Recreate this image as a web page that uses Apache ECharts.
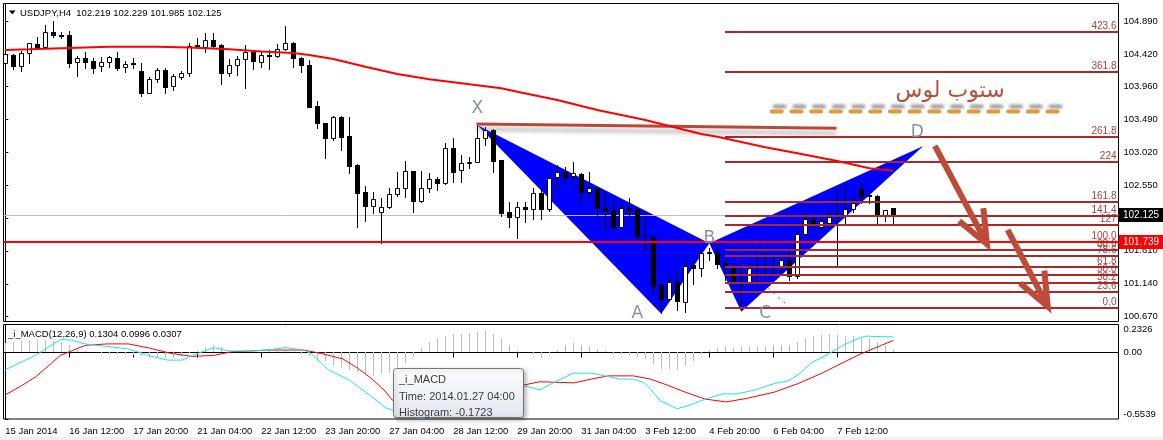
<!DOCTYPE html>
<html>
<head>
<meta charset="utf-8">
<title>USDJPY,H4</title>
<script src="https://cdn.jsdelivr.net/npm/echarts@6.0.0/dist/echarts.min.js"></script>
<style>
html,body{margin:0;padding:0;background:#ffffff;}
#chart{width:1163px;height:440px;}
</style>
</head>
<body>
<div id="chart"></div>
<script>
// ---------------- data ----------------
const symbolName = 'USDJPY,H4';
const xTickBars = [0, 8, 16, 24, 32, 40, 48, 56, 64, 72, 80, 88, 96, 104];
const xTickLabels = ['15 Jan 2014', '16 Jan 12:00', '17 Jan 20:00', '21 Jan 04:00', '22 Jan 12:00',
  '23 Jan 20:00', '27 Jan 04:00', '28 Jan 12:00', '29 Jan 20:00', '31 Jan 04:00',
  '3 Feb 12:00', '4 Feb 20:00', '6 Feb 04:00', '7 Feb 12:00'];
const yTickLabels = ['104.890', '104.420', '103.960', '103.490', '103.020', '102.550',
  '102.080', '101.610', '101.140', '100.670'];
const macdTickLabels = ['0.2326', '0.00', '-0.5539'];

const opens = [104.300,104.409,104.257,104.433,104.566,104.528,104.733,104.700,104.695,104.305,
104.362,104.324,104.247,104.305,104.366,104.233,104.290,104.181,103.871,104.062,
104.195,103.966,104.100,104.147,104.552,104.528,104.623,104.552,104.147,104.262,
104.347,104.457,104.314,104.409,104.395,104.490,104.576,104.362,104.266,103.681,
103.433,103.219,103.529,103.253,102.838,102.448,102.258,102.172,102.234,102.419,
102.505,102.753,102.329,102.505,102.634,102.577,103.076,102.767,102.862,102.886,
103.219,103.338,102.910,102.162,102.091,102.243,102.205,102.434,102.205,102.662,
102.743,102.681,102.710,102.458,102.505,102.220,102.196,101.944,102.220,102.205,
101.829,101.806,101.125,100.925,101.172,100.873,101.410,101.363,101.583,101.592,
101.435,101.377,101.163,101.163,101.377,101.394,101.396,101.397,101.482,101.244,
101.849,102.063,101.944,102.015,102.100,102.110,102.206,102.491,102.410,102.387,
102.110,102.219];
const highs = [104.457,104.419,104.466,104.585,104.661,104.838,104.895,104.742,104.752,104.395,
104.447,104.371,104.376,104.395,104.447,104.328,104.362,104.290,104.090,104.219,
104.219,104.138,104.181,104.576,104.647,104.719,104.719,104.566,104.347,104.395,
104.552,104.481,104.457,104.481,104.562,104.823,104.590,104.385,104.338,103.752,
103.443,103.543,103.538,103.529,102.848,102.543,102.448,102.362,102.505,102.743,
102.900,102.757,102.757,102.719,102.672,103.157,103.219,102.981,102.957,103.410,
103.386,103.345,102.915,102.315,102.315,102.315,102.505,102.529,102.662,102.838,
102.815,102.886,102.719,102.734,102.529,102.458,102.339,102.291,102.362,102.210,
102.101,101.815,101.134,101.244,101.339,101.482,101.482,101.625,101.649,101.673,
101.482,101.411,101.387,101.411,101.577,101.601,101.530,101.530,101.625,101.911,
102.149,102.101,102.077,102.196,102.529,102.553,102.387,102.601,102.434,102.410,
102.196,102.229];
const lows = [104.266,104.209,104.185,104.300,104.500,104.519,104.661,104.647,104.243,104.114,
104.228,104.157,104.181,104.243,104.195,104.171,104.219,103.824,103.862,104.028,
103.871,103.909,104.062,104.114,104.514,104.447,104.504,103.990,104.114,104.124,
103.933,104.204,104.243,104.204,104.376,104.481,104.243,104.171,103.662,103.362,
102.934,103.195,103.053,102.719,101.958,102.043,102.148,101.729,102.220,102.400,
102.386,102.162,102.315,102.458,102.481,102.567,102.600,102.591,102.791,102.876,
103.124,102.734,102.110,101.948,101.801,102.029,102.063,102.067,102.186,102.505,
102.586,102.634,102.291,102.353,102.077,101.910,101.910,101.920,102.053,101.791,
101.601,101.006,100.720,100.911,100.768,100.735,101.139,101.244,101.482,101.363,
101.197,101.101,100.760,101.149,101.149,101.244,101.292,101.316,101.187,101.220,
101.839,101.911,101.911,101.958,101.387,101.982,102.172,102.291,102.291,102.015,
102.030,101.985];
const closes = [104.419,104.257,104.433,104.576,104.509,104.733,104.695,104.685,104.300,104.362,
104.314,104.228,104.309,104.376,104.219,104.281,104.281,103.871,104.062,104.190,
103.957,104.109,104.147,104.542,104.528,104.623,104.542,104.147,104.262,104.347,
104.447,104.328,104.409,104.395,104.490,104.576,104.362,104.266,103.671,103.433,
103.229,103.529,103.243,102.829,102.443,102.258,102.353,102.234,102.424,102.505,
102.753,102.329,102.505,102.634,102.586,103.076,102.743,102.862,102.886,103.219,
103.338,102.900,102.158,102.091,102.243,102.205,102.434,102.205,102.648,102.743,
102.672,102.719,102.458,102.505,102.220,102.186,101.958,102.220,102.196,101.825,
101.820,101.115,100.920,101.172,100.887,101.396,101.363,101.577,101.590,101.425,
101.387,101.149,101.149,101.363,101.401,101.398,101.392,101.482,101.244,101.849,
102.063,101.996,102.030,102.101,102.115,102.206,102.291,102.396,102.387,102.110,
102.187,102.125];

// moving average (red) read at [bar, price]
const maPoints = [[0,104.48],[3,104.49],[8,104.51],[13,104.527],[19,104.527],[23,104.516],[28,104.49],
  [32,104.46],[36,104.437],[38,104.409],[41,104.351],[45,104.241],[49,104.137],[53,104.061],[57,104.004],
  [62,103.933],[64,103.884],[69,103.766],[74,103.623],[80,103.48],[85,103.337],[87,103.28],[89,103.241],
  [95,103.09],[99,103.004],[104,102.894],[108,102.79],[111,102.756]];

// MACD main (aqua) and signal (red) read at [bar, value]; histogram per bar
const macdMain = [[0,-0.144],[3.8,-0.024],[6.9,0.110],[8.3,0.101],[10,0.071],[12.7,0.050],[15.4,0.029],
  [18.1,-0.030],[20.3,-0.064],[22.1,-0.064],[23.4,-0.024],[26.1,0.041],[27.9,0.012],[30.6,0.012],[32.8,0.020],
  [35,0.041],[37.3,0.020],[38.2,-0.009],[40.4,-0.144],[43.1,-0.233],[45.8,-0.368],[47.5,-0.458],[49.3,-0.503],
  [52,-0.55],[56,-0.50],[60,-0.40],[63,-0.32],[65,-0.278],[66.8,-0.311],[68.5,-0.253],[71,-0.172],[73.3,-0.172],
  [75.4,-0.201],[76.7,-0.221],[78.5,-0.221],[79.8,-0.250],[80.6,-0.302],[81.9,-0.403],[84,-0.469],[85.8,-0.432],
  [87.5,-0.388],[89.6,-0.345],[91.4,-0.345],[93.5,-0.316],[96.1,-0.259],[97.8,-0.238],[99.1,-0.187],
  [100.8,-0.085],[103,-0.008],[104.7,0.059],[106.9,0.125],[107.7,0.136],[109.5,0.131],[111,0.1304]];
const macdSignal = [[0,-0.353],[2,-0.278],[3.8,-0.203],[6.9,-0.024],[10,0.059],[12.7,0.071],[15.4,0.071],
  [18.1,0.035],[20.8,-0.009],[23.4,-0.033],[26.1,-0.024],[28.3,0.006],[30.6,0.012],[32.8,0.020],[37.3,0.020],
  [39.5,-0.009],[42.2,-0.054],[44,-0.129],[45.8,-0.218],[47.5,-0.323],[48.4,-0.398],[52,-0.45],[58,-0.38],
  [64.7,-0.273],[66.8,-0.244],[71.1,-0.253],[73.3,-0.221],[75.4,-0.195],[78.5,-0.195],[80.6,-0.221],
  [82.8,-0.273],[85,-0.331],[87.5,-0.388],[90.1,-0.412],[92.7,-0.382],[96.1,-0.331],[99.1,-0.259],
  [102.1,-0.172],[104.7,-0.085],[106.9,-0.013],[109.5,0.059],[111,0.0996]];
const macdHist = [0.075,0.084,0.096,0.100,0.105,0.105,0.096,0.084,0.060,0.024,
0.009,0.002,-0.006,-0.012,-0.015,-0.012,-0.018,-0.030,-0.045,-0.050,
-0.050,-0.045,-0.030,-0.006,0.015,0.045,0.060,0.045,0.024,0.009,
0.006,0.006,0.006,0.009,0.015,0.009,0.002,-0.015,-0.030,-0.054,
-0.075,-0.105,-0.126,-0.149,-0.164,-0.179,-0.194,-0.179,-0.1723,-0.150,
-0.090,-0.030,0.040,0.090,0.120,0.135,0.150,0.155,0.165,0.173,
0.180,0.150,0.114,0.066,0.015,0.002,-0.010,-0.049,-0.005,0.023,
0.061,0.075,0.066,0.055,0.032,0.009,-0.012,-0.017,-0.020,-0.040,
-0.055,-0.098,-0.141,-0.135,-0.147,-0.112,-0.069,-0.012,0.017,0.037,
0.055,0.037,0.043,0.043,0.049,0.049,0.061,0.066,0.061,0.089,
0.124,0.141,0.147,0.153,0.147,0.141,0.133,0.124,0.118,0.089,
0.061,0.0307];

// Fibonacci expansion
const fibLevels = [0, 23.6, 38.2, 50, 61.8, 78.6, 88.6, 100, 127, 141.4, 161.8, 224, 261.8, 361.8, 423.6];
const fibLabels = ['0.0','23.6','38.2','50.0','61.8','78.6','88.6','100.0','127','141.4','161.8','224','261.8','361.8','423.6'];
const fibLow = 100.80, fibHigh = 101.73, fibStartBar = 90;

// XABCD pattern
const patternNames = ['X', 'A', 'B', 'C', 'D'];
const patternBars = [59, 82, 88, 92, 114.75];
const patternPrices = [103.41, 100.71, 101.72, 100.74, 103.11];
const patternLabelBars = [59, 79, 88, 95, 114];
const patternLabelPrices = [103.647, 100.719, 101.79, 100.719, 103.294];

// horizontal levels and drawn objects
const bidPrice = 102.125;
const levelPrice = 101.739;
const trendLine = [[58.9, 103.423], [103.9, 103.361]];
const stopLossLine = [[95.8, 103.60], [132.7, 103.60]];
const zigLine = [[90.2, 101.623], [97.7, 100.837]];
const arrowLines = [[116.2, 103.109, 122.7, 101.709], [125.3, 101.909, 130.3, 100.816]];
const noteText = 'ستوب لوس';
const notePoint = [118.1, 103.884];
const tooltipLines = ['_i_MACD', 'Time: 2014.01.27 04:00', 'Histogram: -0.1723'];

// ---------------- layout ----------------
const FONT = '"Liberation Sans", Arial, sans-serif';
const X_MIN = -0.225, X_MAX = 139.15;
const Y_MIN = 100.601, Y_MAX = 105.144;
const M_MIN = -0.5539, M_MAX = 0.2326;
const yTicks = yTickLabels.map(Number);
const mTicks = macdTickLabels.map(Number);
const ARROW_COLOR = '#bd4b37';
const FIB_COLOR = '#a52a2a';

const last = opens.length - 1;
const headerText = symbolName + '  ' + [opens[last], highs[last], lows[last], closes[last]].map(v => v.toFixed(3)).join(' ');
const macdHeader = '_i_MACD(12,26,9) ' + macdMain[macdMain.length - 1][1].toFixed(4) + ' ' +
  macdSignal[macdSignal.length - 1][1].toFixed(4) + ' ' + macdHist[last].toFixed(4);

const candleRows = opens.map((o, i) => [i, o, highs[i], lows[i], closes[i]]);

function candleItem(params, api) {
  const i = api.value(0), o = api.value(1), h = api.value(2), l = api.value(3), c = api.value(4);
  const pH = api.coord([i, h]), pL = api.coord([i, l]), pO = api.coord([i, o]), pC = api.coord([i, c]);
  const col = Math.round(pO[0]);
  const xm = col + 0.5;
  const yTop = Math.round(Math.min(pO[1], pC[1]));
  const yBot = Math.round(Math.max(pO[1], pC[1]));
  const kids = [{ type: 'line', shape: { x1: xm, y1: Math.round(pH[1]), x2: xm, y2: Math.round(pL[1]) + 1 },
    style: { stroke: '#000', lineWidth: 1 } }];
  if (yBot - yTop < 1) {
    kids.push({ type: 'line', shape: { x1: col - 2, y1: yTop + 0.5, x2: col + 3, y2: yTop + 0.5 }, style: { stroke: '#000', lineWidth: 1 } });
  } else if (c > o) {
    kids.push({ type: 'rect', shape: { x: col - 1.5, y: yTop + 0.5, width: 4, height: yBot - yTop }, style: { fill: '#fff', stroke: '#000', lineWidth: 1 } });
  } else {
    kids.push({ type: 'rect', shape: { x: col - 2, y: yTop, width: 5, height: yBot - yTop + 1 }, style: { fill: '#000' } });
  }
  return { type: 'group', children: kids };
}

function triangleItem(params, api) {
  const k = params.dataIndex;
  if (k !== 0 && k !== 2) return null;
  const pts = [k, k + 1, k + 2].map(j => api.coord([patternBars[j], patternPrices[j]]));
  return { type: 'polygon', shape: { points: pts }, style: { fill: '#0000ff' } };
}

function patternLabelItem(params, api) {
  const p = api.coord([api.value(0), api.value(1)]);
  return { type: 'text', x: p[0], y: p[1], style: { text: patternNames[params.dataIndex], fill: '#8593a1',
    font: '17px "DejaVu Sans", sans-serif', align: 'center', verticalAlign: 'middle' } };
}

function fibItem(params, api) {
  const p = api.coord([api.value(0), api.value(1)]);
  const cs = params.coordSys;
  const y = Math.round(p[1]);
  const xe = cs.x + cs.width;
  return { type: 'group', children: [
    { type: 'line', shape: { x1: Math.round(p[0]), y1: y, x2: xe, y2: y }, style: { stroke: FIB_COLOR, lineWidth: 2 } },
    { type: 'text', x: xe - 2, y: y - 1, style: { text: fibLabels[params.dataIndex], fill: '#a8403c',
      font: '10px ' + FONT, align: 'right', verticalAlign: 'bottom' } }
  ] };
}

function hLineItem(color, width) {
  return function (params, api) {
    const p = api.coord([api.value(0), api.value(1)]);
    const cs = params.coordSys;
    const y = width % 2 ? Math.round(p[1]) + 0.5 : Math.round(p[1]);
    return { type: 'line', shape: { x1: cs.x, y1: y, x2: cs.x + cs.width, y2: y }, style: { stroke: color, lineWidth: width } };
  };
}

const tagColors = ['#000000', '#ff0000'];
const tagPrices = [bidPrice, levelPrice];
function tagItem(params, api) {
  const p = api.coord([api.value(0), api.value(1)]);
  const cs = params.coordSys;
  const y = Math.round(p[1]);
  const x0 = cs.x + cs.width + 0.5;
  return { type: 'group', children: [
    { type: 'rect', shape: { x: x0, y: y - 7, width: 44, height: 14 }, style: { fill: tagColors[params.dataIndex] } },
    { type: 'text', x: x0 + 4, y: y, style: { text: tagPrices[params.dataIndex].toFixed(3), fill: '#fff',
      font: '10px ' + FONT, align: 'left', verticalAlign: 'middle' } }
  ] };
}

function arrowItem(params, api) {
  const a = api.coord([api.value(0), api.value(1)]);
  const b = api.coord([api.value(2), api.value(3)]);
  const ang = Math.atan2(a[1] - b[1], a[0] - b[0]);
  const L = 36, s = 0.39;
  const e1 = [b[0] + L * Math.cos(ang + s), b[1] + L * Math.sin(ang + s)];
  const e2 = [b[0] + L * Math.cos(ang - s), b[1] + L * Math.sin(ang - s)];
  return { type: 'group', children: [
    { type: 'line', shape: { x1: a[0], y1: a[1], x2: b[0], y2: b[1] }, style: { stroke: ARROW_COLOR, lineWidth: 6 } },
    { type: 'polyline', shape: { points: [e1, b, e2] }, style: { stroke: ARROW_COLOR, lineWidth: 6, lineJoin: 'miter', fill: null } }
  ] };
}

function noteItem(params, api) {
  const p = api.coord([api.value(0), api.value(1)]);
  return { type: 'text', x: p[0], y: p[1], style: { text: noteText, fill: '#b5503c',
    font: '22px "DejaVu Sans", sans-serif', align: 'center', verticalAlign: 'middle' } };
}

function histItem(params, api) {
  const i = api.value(0), v = api.value(1);
  const p0 = api.coord([i, 0]), p1 = api.coord([i, v]);
  const x = Math.round(p0[0]) + 0.5;
  return { type: 'line', shape: { x1: x, y1: Math.round(p0[1]), x2: x, y2: Math.round(p1[1]) }, style: { stroke: '#bdbdbd', lineWidth: 1 } };
}

const axisFont = { color: '#000', fontSize: 9.5, fontFamily: FONT };

const option = {
  animation: false,
  backgroundColor: '#ffffff',
  grid: [
    { left: 3.5, top: 3.5, width: 1115, height: 318, show: true, borderColor: '#000', borderWidth: 1, backgroundColor: 'transparent' },
    { left: 3.5, top: 324.5, width: 1115, height: 94.5, show: true, borderColor: '#000', borderWidth: 1, backgroundColor: 'transparent' }
  ],
  xAxis: [
    { gridIndex: 0, type: 'value', min: X_MIN, max: X_MAX, show: false },
    { gridIndex: 1, type: 'value', min: X_MIN, max: X_MAX, position: 'bottom',
      axisLine: { show: true, lineStyle: { color: '#000', width: 1 } },
      axisTick: { show: true, length: 5, lineStyle: { color: '#000' }, customValues: xTickBars },
      axisLabel: Object.assign({ customValues: xTickBars, align: 'left', margin: 7,
        formatter: v => { const k = xTickBars.indexOf(Math.round(v)); return k >= 0 ? xTickLabels[k] : ''; } }, axisFont),
      splitLine: { show: false } }
  ],
  yAxis: [
    { gridIndex: 0, type: 'value', position: 'right', min: Y_MIN, max: Y_MAX,
      axisLine: { show: true, lineStyle: { color: '#000' } },
      axisTick: { show: true, length: 3, lineStyle: { color: '#000' }, customValues: yTicks },
      axisLabel: Object.assign({ customValues: yTicks, margin: 5, formatter: v => v.toFixed(3) }, axisFont),
      splitLine: { show: false } },
    { gridIndex: 1, type: 'value', position: 'right', min: M_MIN, max: M_MAX,
      axisLine: { show: true, lineStyle: { color: '#000' } },
      axisTick: { show: true, length: 3, lineStyle: { color: '#000' }, customValues: mTicks },
      axisLabel: Object.assign({ customValues: mTicks, margin: 5,
        verticalAlignMaxLabel: 'bottom', verticalAlignMinLabel: 'top',
        formatter: v => { const k = mTicks.indexOf(v); return k >= 0 ? macdTickLabels[k] : ''; } }, axisFont),
      splitLine: { show: false } }
  ],
  series: [
    { type: 'custom', name: 'pattern', xAxisIndex: 0, yAxisIndex: 0, z: 1, silent: true, clip: true,
      data: patternBars.map((b, i) => [b, patternPrices[i]]), encode: { x: 0, y: 1 }, renderItem: triangleItem },
    { type: 'custom', name: 'bid', xAxisIndex: 0, yAxisIndex: 0, z: 2, silent: true,
      data: [[X_MIN, bidPrice]], encode: { x: 0, y: 1 }, renderItem: hLineItem('#c0c0c0', 1) },
    { type: 'custom', name: 'candles', xAxisIndex: 0, yAxisIndex: 0, z: 3, silent: true, clip: true,
      data: candleRows, encode: { x: 0, y: [1, 2, 3, 4] }, renderItem: candleItem },
    { type: 'custom', name: 'fibo', xAxisIndex: 0, yAxisIndex: 0, z: 4, silent: true,
      data: fibLevels.map(l => [fibStartBar, fibLow + l / 100 * (fibHigh - fibLow)]), encode: { x: 0, y: 1 }, renderItem: fibItem },
    { type: 'custom', name: 'level', xAxisIndex: 0, yAxisIndex: 0, z: 5, silent: true,
      data: [[X_MIN, levelPrice]], encode: { x: 0, y: 1 }, renderItem: hLineItem('#ff0000', 2) },
    { type: 'line', name: 'zig', xAxisIndex: 0, yAxisIndex: 0, z: 5, silent: true, symbol: 'none',
      data: zigLine, lineStyle: { color: '#ff0000', width: 1, type: [2, 5] } },
    { type: 'line', name: 'trend', xAxisIndex: 0, yAxisIndex: 0, z: 5, silent: true, symbol: 'none',
      data: trendLine, lineStyle: { color: '#bf4636', width: 3, shadowColor: 'rgba(110,110,110,0.55)', shadowBlur: 4, shadowOffsetY: 5 } },
    { type: 'line', name: 'stop', xAxisIndex: 0, yAxisIndex: 0, z: 5, silent: true, symbol: 'none',
      data: stopLossLine, lineStyle: { color: '#e09a38', width: 4, type: [10, 9.7], cap: 'round',
        shadowColor: 'rgba(120,120,120,0.75)', shadowBlur: 3, shadowOffsetX: 3, shadowOffsetY: -5 } },
    { type: 'line', name: 'MA', xAxisIndex: 0, yAxisIndex: 0, z: 6, silent: true, symbol: 'none',
      data: maPoints, lineStyle: { color: '#ff0000', width: 2 } },
    { type: 'custom', name: 'arrows', xAxisIndex: 0, yAxisIndex: 0, z: 7, silent: true,
      data: arrowLines, encode: { x: [0, 2], y: [1, 3] }, renderItem: arrowItem },
    { type: 'custom', name: 'labels', xAxisIndex: 0, yAxisIndex: 0, z: 7, silent: true,
      data: patternLabelBars.map((b, i) => [b, patternLabelPrices[i]]), encode: { x: 0, y: 1 }, renderItem: patternLabelItem },
    { type: 'custom', name: 'note', xAxisIndex: 0, yAxisIndex: 0, z: 7, silent: true,
      data: [notePoint], encode: { x: 0, y: 1 }, renderItem: noteItem },
    { type: 'custom', name: 'tags', xAxisIndex: 0, yAxisIndex: 0, z: 10, silent: true, clip: false,
      data: tagPrices.map(p => [X_MIN, p]), encode: { x: 0, y: 1 }, renderItem: tagItem },
    { type: 'custom', name: 'hist', xAxisIndex: 1, yAxisIndex: 1, z: 2, silent: true, clip: true,
      data: macdHist.map((v, i) => [i, v]), encode: { x: 0, y: 1 }, renderItem: histItem },
    { type: 'line', name: 'signal', xAxisIndex: 1, yAxisIndex: 1, z: 3, silent: true, symbol: 'none',
      data: macdSignal, lineStyle: { color: '#ff0000', width: 1 } },
    { type: 'line', name: 'main', xAxisIndex: 1, yAxisIndex: 1, z: 4, silent: true, symbol: 'none',
      data: macdMain, lineStyle: { color: '#18e4f0', width: 1 } }
  ],
  graphic: [
    { type: 'rect', shape: { x: 0, y: 437, width: 1163, height: 3 }, style: { fill: '#f0f0f0' }, z: 50, silent: true },
    { type: 'polygon', shape: { points: [[9, 10.5], [15.5, 10.5], [12.25, 14.5]] }, style: { fill: '#000' }, z: 50, silent: true },
    { type: 'text', x: 20, y: 13, style: { text: headerText, fill: '#000', font: '9.5px ' + FONT, verticalAlign: 'middle' }, z: 50, silent: true },
    { type: 'text', x: 8, y: 334, style: { text: macdHeader, fill: '#000', font: '9.5px ' + FONT, verticalAlign: 'middle' }, z: 50, silent: true },
    { type: 'rect', shape: { x: 393.5, y: 368.5, width: 130, height: 49, r: 3 },
      style: { fill: { type: 'linear', x: 0, y: 0, x2: 0, y2: 1, colorStops: [{ offset: 0, color: '#ffffff' }, { offset: 1, color: '#e3e5ee' }] },
        stroke: '#767676', lineWidth: 1, shadowBlur: 4, shadowColor: 'rgba(0,0,0,0.3)', shadowOffsetX: 2, shadowOffsetY: 2 }, z: 100, silent: true },
    { type: 'text', x: 399, y: 380, style: { text: tooltipLines[0], fill: '#3b3b3b', font: '11px ' + FONT, verticalAlign: 'middle' }, z: 101, silent: true },
    { type: 'text', x: 399, y: 396.5, style: { text: tooltipLines[1], fill: '#3b3b3b', font: '11px ' + FONT, verticalAlign: 'middle' }, z: 101, silent: true },
    { type: 'text', x: 399, y: 412.5, style: { text: tooltipLines[2], fill: '#3b3b3b', font: '11px ' + FONT, verticalAlign: 'middle' }, z: 101, silent: true }
  ]
};

const chart = echarts.init(document.getElementById('chart'), null, { renderer: 'canvas', width: 1163, height: 440 });
chart.setOption(option);
</script>
</body>
</html>
